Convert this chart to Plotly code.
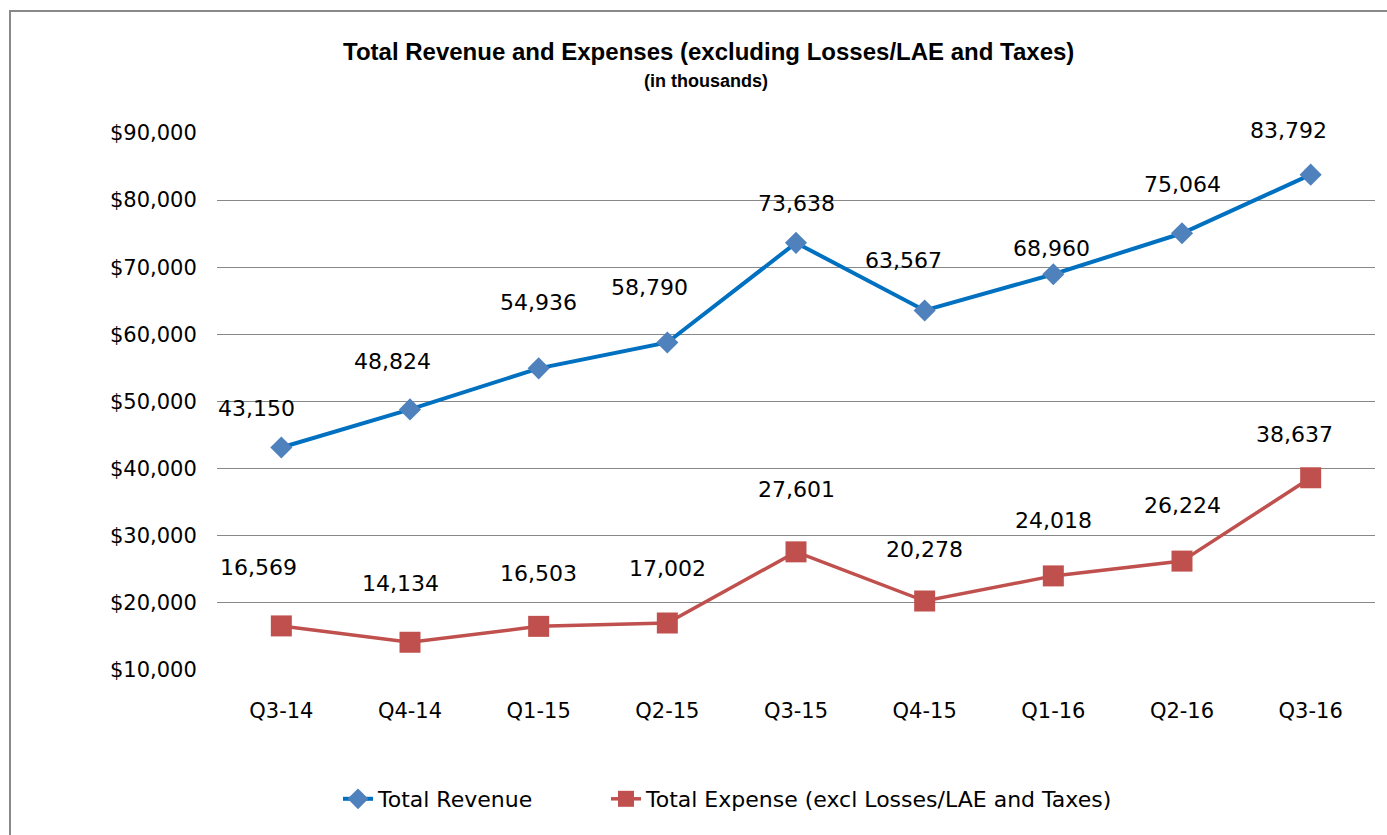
import plotly.graph_objects as go

quarters = ["Q3-14", "Q4-14", "Q1-15", "Q2-15", "Q3-15", "Q4-15", "Q1-16", "Q2-16", "Q3-16"]
revenue = [43150, 48824, 54936, 58790, 73638, 63567, 68960, 75064, 83792]
expense = [16569, 14134, 16503, 17002, 27601, 20278, 24018, 26224, 38637]
y_ticks = [10000, 20000, 30000, 40000, 50000, 60000, 70000, 80000, 90000]

# label offsets (pixels) for data labels
rev_dx = [-25, -18, 0, -18, 0, -21, -2, 0, -22]
rev_dy = [39, 48, 66, 55, 39, 50, 26, 49, 44]
exp_dx = [-23, -10, 0, 0, 0, 0, 0, 0, -16]
exp_dy = [58, 59, 53, 55, 62, 52, 55, 56, 43]

FONT = "DejaVu Sans"
W, H = 1387, 835
ML, MR, MT, MB = 217, 12, 133, 165
PW, PH = W - ML - MR, H - MT - MB


def px_x(px):
    return (px - ML) / PW


def px_y(py):
    return (H - MB - py) / PH


fig = go.Figure()
fig.add_trace(go.Scatter(
    x=quarters, y=revenue, name="Total Revenue", mode="lines+markers",
    line=dict(color="#0070C0", width=4),
    marker=dict(symbol="diamond", size=17, color="#4F81BD"),
    legend="legend",
))
fig.add_trace(go.Scatter(
    x=quarters, y=expense, name="Total Expense (excl Losses/LAE and Taxes)", mode="lines+markers",
    line=dict(color="#C0504D", width=3.5),
    marker=dict(symbol="square", size=21, color="#C0504D"),
    legend="legend2",
))

annotations = []
for q, v, dx, dy in zip(quarters, revenue, rev_dx, rev_dy):
    annotations.append(dict(x=q, y=v, xref="x", yref="y", text=f"{v:,}", showarrow=False,
                            xshift=dx, yshift=dy, yanchor="middle",
                            font=dict(family=FONT, size=22, color="#000000")))
for q, v, dx, dy in zip(quarters, expense, exp_dx, exp_dy):
    annotations.append(dict(x=q, y=v, xref="x", yref="y", text=f"{v:,}", showarrow=False,
                            xshift=dx, yshift=dy, yanchor="middle",
                            font=dict(family=FONT, size=22, color="#000000")))

annotations.append(dict(x=px_x(708), y=px_y(51), xref="paper", yref="paper",
                        text="<b>Total Revenue and Expenses (excluding Losses/LAE and Taxes)</b>",
                        showarrow=False, yanchor="middle", xanchor="center",
                        font=dict(family="Liberation Sans", size=24, color="#000000")))
annotations.append(dict(x=px_x(706), y=px_y(81), xref="paper", yref="paper",
                        text="<b>(in thousands)</b>",
                        showarrow=False, yanchor="middle", xanchor="center",
                        font=dict(family="Liberation Sans", size=18, color="#000000")))

legend_common = dict(orientation="h", yanchor="middle", y=1 - 799 / H, yref="container",
                     xref="container", xanchor="left",
                     font=dict(family=FONT, size=22, color="#000000"),
                     bgcolor="rgba(0,0,0,0)", borderwidth=0)

fig.update_layout(
    width=W, height=H,
    paper_bgcolor="white", plot_bgcolor="white",
    margin=dict(l=ML, r=MR, t=MT, b=MB),
    showlegend=True,
    legend=dict(x=338 / W, **legend_common),
    legend2=dict(x=606 / W, **legend_common),
    annotations=annotations,
    shapes=[dict(type="rect", xref="paper", yref="paper",
                 x0=px_x(10), x1=px_x(1450), y0=px_y(900), y1=px_y(11),
                 line=dict(color="#898989", width=2), fillcolor="rgba(0,0,0,0)", layer="below")],
)

fig.update_xaxes(
    type="category", range=[-0.5, 8.5], showgrid=False, showline=False, zeroline=False,
    ticks="outside", ticklen=22, tickcolor="rgba(0,0,0,0)",
    tickfont=dict(family=FONT, size=21, color="#000000"),
)
fig.update_yaxes(
    range=[10000, 90000], tickvals=y_ticks, ticktext=[f"${t:,}" for t in y_ticks],
    showgrid=True, gridcolor="#888888", gridwidth=1.3, zeroline=False, showline=False,
    ticks="outside", ticklen=15, tickcolor="rgba(0,0,0,0)",
    tickfont=dict(family=FONT, size=21, color="#000000"),
)

fig.write_html("out.html", config={"displayModeBar": False},
               post_script="document.body.style.margin='0';document.body.style.overflow='hidden';")
